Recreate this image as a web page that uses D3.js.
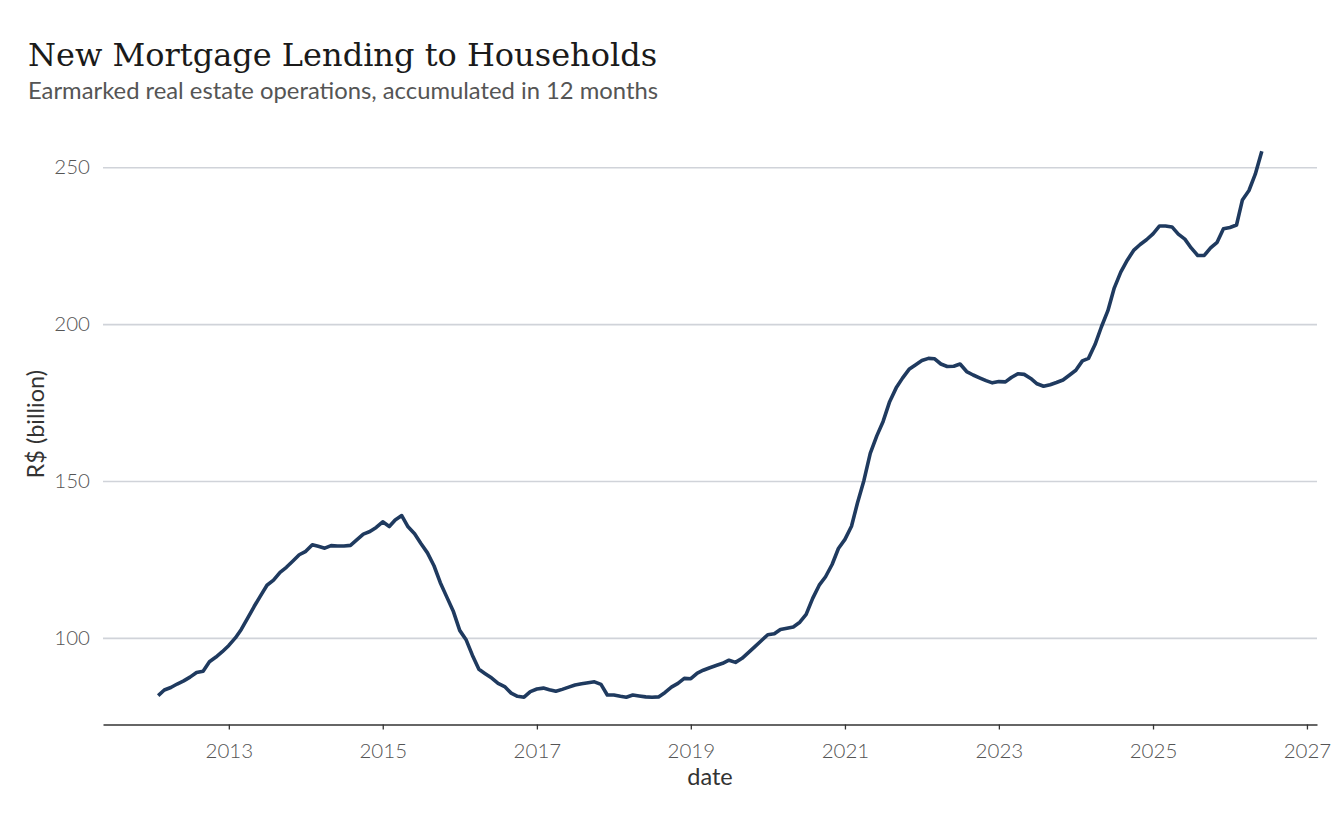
<!DOCTYPE html>
<html lang="en">
<head>
  <meta charset="UTF-8">
  <title>New Mortgage Lending to Households</title>
  <script src="https://d3js.org/d3.v7.min.js"></script>
  <style>
    body {
      margin: 0;
      background: #fff;
    }
    .title {
      font-family: "DejaVu Serif", serif;
      font-size: 32px;
      fill: #1a1a1a;
    }
    .subtitle {
      font-family: Lato, sans-serif;
      font-size: 23.8px;
      fill: #555;
    }
    .tick text {
      font-family: Lato, sans-serif;
      font-size: 20.5px;
      font-weight: 300;
      fill: #555;
    }
    .axis-title {
      font-family: Lato, sans-serif;
      font-size: 23.5px;
      fill: #333;
    }
    .grid line {
      stroke: #d0d3d9;
      stroke-width: 1.6;
    }
    .series {
      fill: none;
      stroke: #1f3a5f;
      stroke-width: 3.6;
      stroke-linejoin: round;
    }
  </style>
</head>
<body>
  <svg width="1344" height="830"></svg>

  <script>
    // first month of the series, then one value per month (R$ billion)
    const startMonth = new Date(2012, 1, 1);
    const values = [
      81.6, 83.4, 84.2, 85.3, 86.3, 87.5, 89.0, 89.4, 92.4, 93.9, 95.6, 97.6,
      100.0, 102.7, 106.4, 110.0, 113.5, 116.8, 118.4, 120.9, 122.5, 124.5, 126.5, 127.6,
      129.7, 129.2, 128.6, 129.4, 129.3, 129.3, 129.5, 131.3, 133.1, 133.9, 135.2, 137.0,
      135.5, 137.6, 139.0, 135.4, 133.2, 130.1, 127.1, 123.0, 117.6, 113.0, 108.6, 102.4,
      99.3, 94.5, 90.0, 88.6, 87.2, 85.5, 84.5, 82.4, 81.4, 81.1, 82.9, 83.7,
      84.0, 83.5, 83.0, 83.6, 84.3, 85.0, 85.4, 85.7, 86.0, 85.2, 81.8, 81.8,
      81.4, 81.1, 81.8, 81.5, 81.2, 81.1, 81.2, 82.6, 84.3, 85.5, 87.1, 87.0,
      88.8, 89.7, 90.5, 91.2, 91.9, 92.9, 92.2, 93.5, 95.3, 97.2, 99.1, 101.0,
      101.3, 102.7, 103.1, 103.5, 105.0, 107.5, 112.6, 116.8, 119.5, 123.4, 128.5, 131.4,
      135.6, 142.9, 150.2, 158.8, 164.4, 169.0, 175.3, 179.7, 182.8, 185.6, 187.0, 188.4,
      189.1, 189.0, 187.3, 186.5, 186.6, 187.3, 184.9, 183.8, 182.9, 182.0, 181.3, 181.7,
      181.6, 183.0, 184.2, 184.0, 182.7, 181.0, 180.2, 180.7, 181.4, 182.2, 183.7, 185.3,
      188.3, 189.1, 193.5, 199.1, 204.3, 211.5, 216.6, 220.4, 223.5, 225.4, 226.9, 228.8,
      231.3, 231.3, 231.0, 228.7, 227.1, 224.3, 221.9, 221.9, 224.3, 226.1, 230.4, 230.8,
      231.6, 239.6, 242.6, 247.8, 255.1
    ];
    const yTicks = [100, 150, 200, 250];
    const xTickYears = [2013, 2015, 2017, 2019, 2021, 2023, 2025, 2027];

    const data = values.map((v, i) => ({ date: d3.timeMonth.offset(startMonth, i), value: v }));

    const svg = d3.select("svg");
    const panel = { left: 103, right: 1317, top: 124, bottom: 724.5 };

    // ggplot-style 5% expansion on both axes
    const expand = (lo, hi) => { const p = (hi - lo) * 0.05; return [lo - p, hi + p]; };

    const [t0, t1] = expand(+data[0].date, +data[data.length - 1].date);
    const x = d3.scaleTime()
      .domain([new Date(t0), new Date(t1)])
      .range([panel.left, panel.right]);

    const y = d3.scaleLinear()
      .domain(expand(d3.min(values), d3.max(values)))
      .range([panel.bottom, panel.top]);

    // Gitterlinien + y-Beschriftung
    const gy = svg.append("g")
      .attr("class", "grid")
      .attr("transform", `translate(${panel.left},0)`)
      .call(d3.axisLeft(y)
        .tickValues(yTicks)
        .tickSize(-(panel.right - panel.left))
        .tickPadding(13));
    gy.select(".domain").remove();
    gy.selectAll(".tick line").attr("x1", 0);

    // x-Achse
    const gx = svg.append("g")
      .attr("transform", `translate(0,${panel.bottom})`)
      .call(d3.axisBottom(x)
        .tickValues(xTickYears.map(yr => new Date(yr, 0, 1)))
        .tickFormat(d3.timeFormat("%Y"))
        .tickSize(5)
        .tickSizeOuter(0)
        .tickPadding(14));
    gx.select(".domain").attr("stroke", "#333").attr("stroke-width", 1.3);
    gx.selectAll(".tick line").attr("stroke", "#333").attr("stroke-width", 1.3);

    // Linie
    svg.append("path")
      .datum(data)
      .attr("class", "series")
      .attr("d", d3.line().x(d => x(d.date)).y(d => y(d.value)));

    // Titel
    svg.append("text").attr("class", "title")
      .attr("x", 28).attr("y", 66)
      .text("New Mortgage Lending to Households");
    svg.append("text").attr("class", "subtitle")
      .attr("x", 28).attr("y", 99)
      .text("Earmarked real estate operations, accumulated in 12 months");

    // Achsentitel
    svg.append("text").attr("class", "axis-title")
      .attr("x", (panel.left + panel.right) / 2).attr("y", 785)
      .attr("text-anchor", "middle")
      .text("date");
    svg.append("text").attr("class", "axis-title")
      .attr("transform", `translate(44,${(panel.top + panel.bottom) / 2}) rotate(-90)`)
      .attr("text-anchor", "middle")
      .text("R$ (billion)");
  </script>
</body>
</html>
